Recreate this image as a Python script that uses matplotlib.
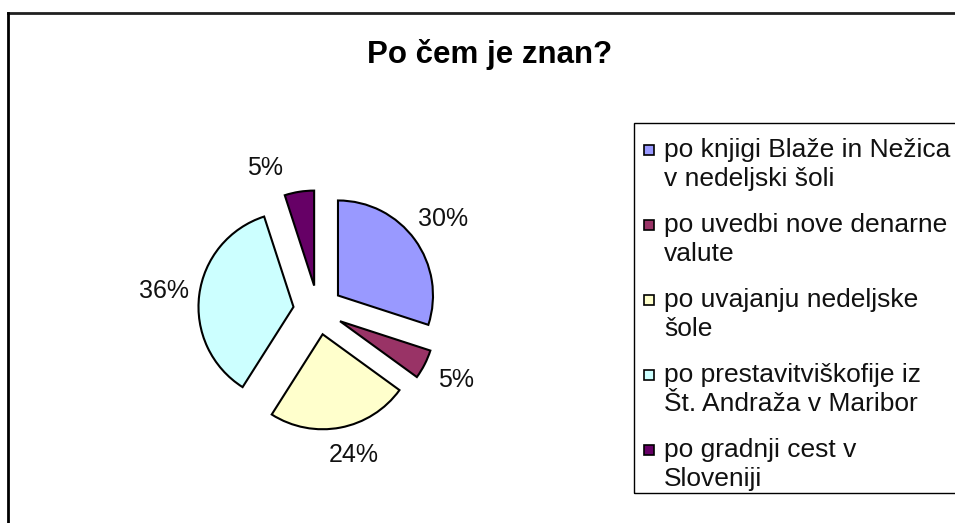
import matplotlib
matplotlib.use("Agg")
import matplotlib.pyplot as plt
from matplotlib.patches import Rectangle
from matplotlib.lines import Line2D

plt.rcParams['font.family'] = ['Liberation Sans', 'DejaVu Sans']

# podatki
naslov = "Po čem je znan?"
kategorije = [
    "po knjigi Blaže in Nežica\nv nedeljski šoli",
    "po uvedbi nove denarne\nvalute",
    "po uvajanju nedeljske\nšole",
    "po prestavitviškofije iz\nŠt. Andraža v Maribor",
    "po gradnji cest v\nSloveniji",
]
deleži = [30, 5, 24, 36, 5]
barve = ['#9999FF', '#993366', '#FFFFCC', '#CCFFFF', '#660066']

W, H = 955, 523
fig = plt.figure(figsize=(W / 100, H / 100), dpi=100)

# okvir grafikona (zgoraj in levo)
fig.add_artist(Line2D([8 / W, 1], [1 - 13 / H, 1 - 13 / H], color='#202020', lw=2))
fig.add_artist(Line2D([8 / W, 8 / W], [0, 1 - 13 / H], color='black', lw=2))

# naslov
fig.text(490 / W, 1 - 55 / H, naslov, ha='center', va='center',
         fontsize=22.5, fontweight='bold')

# tortni grafikon
cx, cy, R = 318, 310, 95
lim = 2.1
size = 2 * lim * R
ax = fig.add_axes([(cx - size / 2) / W, (H - cy - size / 2) / H, size / W, size / H])
wedges, texts, autotexts = ax.pie(
    deleži, colors=barve, startangle=90, counterclock=False,
    explode=[0.26] * len(deleži), autopct='%1.0f%%', pctdistance=1.37,
    wedgeprops=dict(edgecolor='black', linewidth=1.5),
    textprops=dict(fontsize=18, color='#111111'))
ax.set_xlim(-lim, lim)
ax.set_ylim(-lim, lim)
ax.axis('off')

# zadnja oznaka je v Excelu zamaknjena levo
x, y = autotexts[4].get_position()
autotexts[4].set_position((x - 0.3, y - 0.12))
x, y = autotexts[2].get_position()
autotexts[2].set_position((x + 0.07, y + 0.07))

# legenda
fig.add_artist(Rectangle((634 / W, 1 - 493 / H), (W + 10 - 634) / W, (493 - 123) / H,
                         transform=fig.transFigure, fill=False, edgecolor='black',
                         lw=1, clip_on=False))
y0, korak = 150, 75
for i, (lab, col) in enumerate(zip(kategorije, barve)):
    y = y0 + i * korak
    fig.add_artist(Rectangle((644 / W, 1 - (y + 5) / H), 10 / W, 10 / H,
                             transform=fig.transFigure, facecolor=col,
                             edgecolor='black', lw=1.2))
    fig.text(664 / W, 1 - (y - 12) / H, lab, ha='left', va='top',
             fontsize=19, linespacing=1.28, color='#111111')

fig.savefig('out.png', dpi=100)
